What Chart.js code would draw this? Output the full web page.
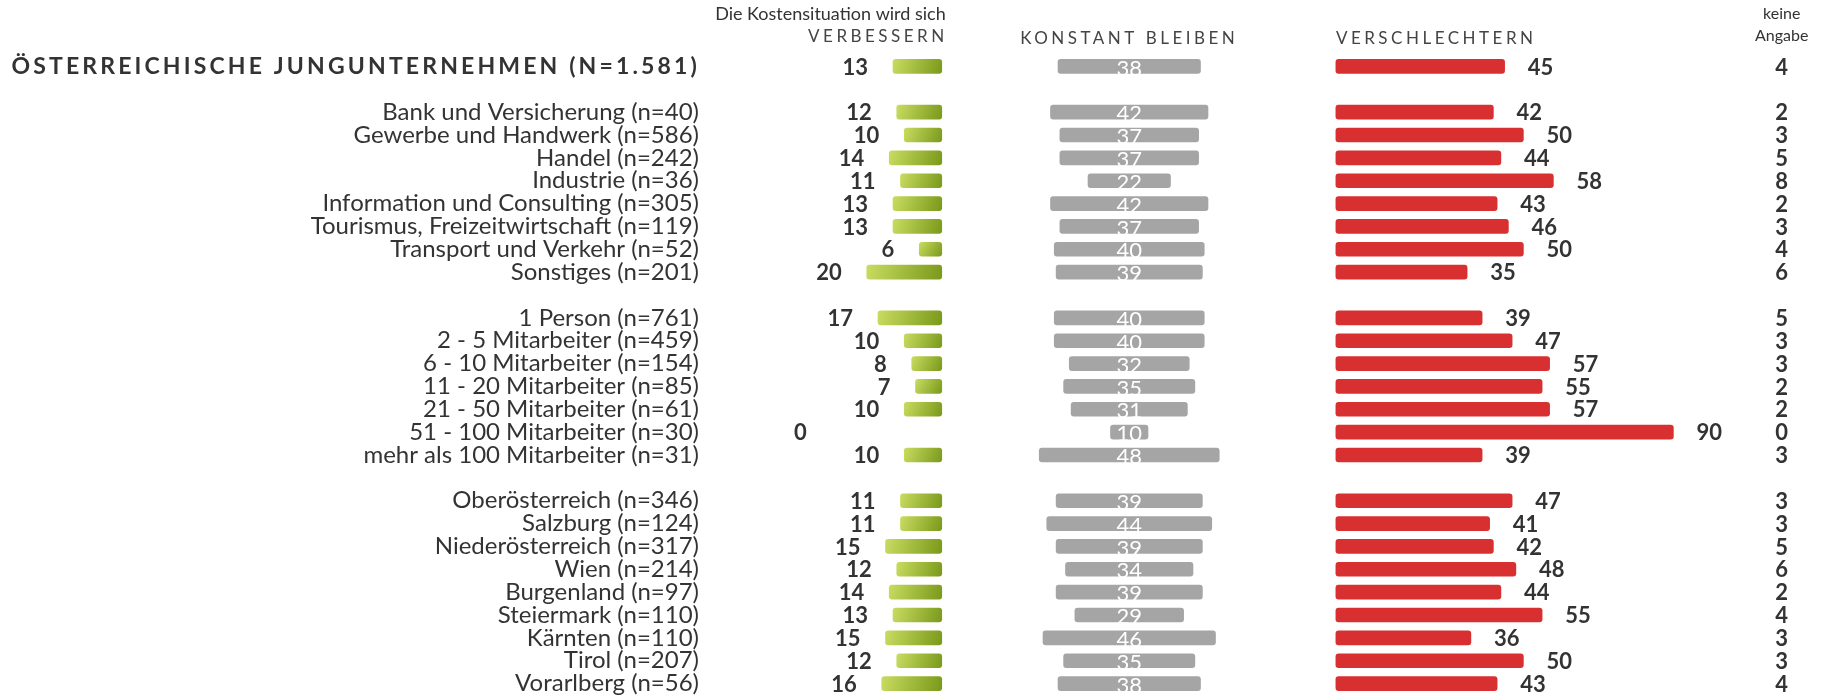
<!DOCTYPE html>
<html>
<head>
<meta charset="utf-8">
<script src="https://cdn.jsdelivr.net/npm/chart.js@4/dist/chart.umd.min.js"></script>
<style>
  body { margin: 0; background: #fff; }
  #wrap { width: 1826px; height: 696px; position: relative; }
</style>
</head>
<body>
<div id="wrap"><canvas id="chart"></canvas></div>
<script>
// rows (empty strings are the gaps between the groups)
const categories = [
  'ÖSTERREICHISCHE JUNGUNTERNEHMEN (N=1.581)', '',
  'Bank und Versicherung (n=40)', 'Gewerbe und Handwerk (n=586)', 'Handel (n=242)', 'Industrie (n=36)',
  'Information und Consulting (n=305)', 'Tourismus, Freizeitwirtschaft (n=119)', 'Transport und Verkehr (n=52)', 'Sonstiges (n=201)', '',
  '1 Person (n=761)', '2 - 5 Mitarbeiter (n=459)', '6 - 10 Mitarbeiter (n=154)', '11 - 20 Mitarbeiter (n=85)',
  '21 - 50 Mitarbeiter (n=61)', '51 - 100 Mitarbeiter (n=30)', 'mehr als 100 Mitarbeiter (n=31)', '',
  'Oberösterreich (n=346)', 'Salzburg (n=124)', 'Niederösterreich (n=317)', 'Wien (n=214)', 'Burgenland (n=97)',
  'Steiermark (n=110)', 'Kärnten (n=110)', 'Tirol (n=207)', 'Vorarlberg (n=56)'
];
const improve  = [13, null, 12, 10, 14, 11, 13, 13, 6, 20, null, 17, 10, 8, 7, 10, 0, 10, null, 11, 11, 15, 12, 14, 13, 15, 12, 16];
const constant = [38, null, 42, 37, 37, 22, 42, 37, 40, 39, null, 40, 40, 32, 35, 31, 10, 48, null, 39, 44, 39, 34, 39, 29, 46, 35, 38];
const worse    = [45, null, 42, 50, 44, 58, 43, 46, 50, 35, null, 39, 47, 57, 55, 57, 90, 39, null, 47, 41, 42, 48, 44, 55, 36, 50, 43];
const noAnswer = [4, null, 2, 3, 5, 8, 2, 3, 4, 6, null, 5, 3, 3, 2, 2, 0, 3, null, 3, 3, 5, 6, 2, 4, 3, 3, 4];

const headIntro = 'Die Kostensituation wird sich';
const headImprove = 'VERBESSERN';
const headConstant = 'KONSTANT BLEIBEN';
const headWorse = 'VERSCHLECHTERN';
const headNoAnswer = ['keine', 'Angabe'];

// column anchors on the shared value axis
const GRAY_CENTER = 50;
const RED_START = 105.1;
const NA_CENTER = 224;
const ZERO_LABEL_AT = -36;

const FONT = 'Lato';
const TEXT = '#333333';

const greenFill = ctx => {
  const chart = ctx.chart;
  const { x, y } = chart.scales;
  const v = improve[ctx.dataIndex];
  if (!x || !y || v == null || !chart.chartArea) return '#a3c13c';
  const x0 = x.getPixelForValue(-v), x1 = x.getPixelForValue(0);
  const yc = y.getPixelForValue(ctx.dataIndex);
  if (![x0, x1, yc].every(Number.isFinite)) return '#a3c13c';
  const g = chart.ctx.createLinearGradient(x0, yc - 7, x1, yc + 7);
  g.addColorStop(0, '#c8dc60');
  g.addColorStop(1, '#7a991b');
  return g;
};

const labelsPlugin = {
  id: 'labels',
  afterDatasetsDraw(chart) {
    const { ctx } = chart;
    const { x, y } = chart.scales;
    ctx.save();
    ctx.textBaseline = 'middle';

    // title row
    ctx.font = 'bold 23px ' + FONT;
    ctx.letterSpacing = '3.15px';
    ctx.fillStyle = TEXT;
    ctx.textAlign = 'right';
    ctx.fillText(categories[0], 700, y.getPixelForValue(0));

    // column headers
    ctx.letterSpacing = '0px';
    ctx.font = '18px ' + FONT;
    ctx.fillStyle = '#333';
    ctx.textAlign = 'right';
    ctx.fillText(headIntro, x.getPixelForValue(0) + 4, 14);
    ctx.font = '16px ' + FONT;
    ctx.textAlign = 'center';
    ctx.fillText(headNoAnswer[0], x.getPixelForValue(NA_CENTER), 14);
    ctx.fillText(headNoAnswer[1], x.getPixelForValue(NA_CENTER), 36);

    ctx.font = '17px ' + FONT;
    ctx.letterSpacing = '3.5px';
    ctx.fillStyle = '#444';
    ctx.textAlign = 'right';
    ctx.fillText(headImprove, x.getPixelForValue(0) + 6, 37);
    ctx.textAlign = 'center';
    ctx.fillText(headConstant, x.getPixelForValue(GRAY_CENTER), 39);
    ctx.textAlign = 'left';
    ctx.fillText(headWorse, x.getPixelForValue(RED_START), 39);
    ctx.letterSpacing = '0px';

    // value labels
    categories.forEach((c, i) => {
      if (improve[i] == null) return;
      const yc = y.getPixelForValue(i) + 1;

      ctx.font = 'bold 22px ' + FONT;
      ctx.fillStyle = TEXT;
      ctx.textAlign = 'right';
      const gx = improve[i] === 0 ? x.getPixelForValue(ZERO_LABEL_AT) : x.getPixelForValue(-improve[i]) - 25;
      ctx.fillText(String(improve[i]), gx, yc);

      ctx.textAlign = 'left';
      ctx.fillText(String(worse[i]), x.getPixelForValue(RED_START + worse[i]) + 23, yc);

      ctx.textAlign = 'center';
      ctx.fillText(String(noAnswer[i]), x.getPixelForValue(NA_CENTER), yc);

      ctx.font = '22px ' + FONT;
      ctx.fillStyle = '#ffffff';
      ctx.fillText(String(constant[i]), x.getPixelForValue(GRAY_CENTER), yc + 1);
    });
    ctx.restore();
  }
};

new Chart(document.getElementById('chart'), {
  type: 'bar',
  data: {
    labels: categories,
    datasets: [
      {
        label: headImprove,
        data: improve.map(v => v ? [-v, 0] : null),
        backgroundColor: greenFill
      },
      {
        label: headConstant,
        data: constant.map(v => v == null ? null : [GRAY_CENTER - v / 2, GRAY_CENTER + v / 2]),
        backgroundColor: '#a5a5a5'
      },
      {
        label: headWorse,
        data: worse.map(v => v == null ? null : [RED_START, RED_START + v]),
        backgroundColor: '#d83030'
      }
    ]
  },
  options: {
    indexAxis: 'y',
    responsive: true,
    maintainAspectRatio: false,
    animation: false,
    layout: { padding: { top: 55, bottom: 1, left: 0, right: 0 } },
    datasets: {
      bar: { grouped: false, barThickness: 14, borderRadius: 3, borderSkipped: false, borderWidth: 0 }
    },
    plugins: {
      legend: { display: false },
      tooltip: { enabled: false }
    },
    scales: {
      x: { display: false, min: -61.8, max: 235.8 },
      y: {
        grid: { display: false, drawTicks: false },
        border: { display: false },
        afterFit: s => { s.width = 710; s.paddingTop = 0; s.paddingBottom = 0; },
        ticks: {
          padding: 11,
          autoSkip: false,
          color: TEXT,
          font: { family: FONT, size: 24 },
          callback: (v, i) => i === 0 ? '' : categories[i]
        }
      }
    }
  },
  plugins: [labelsPlugin]
});
</script>
</body>
</html>
